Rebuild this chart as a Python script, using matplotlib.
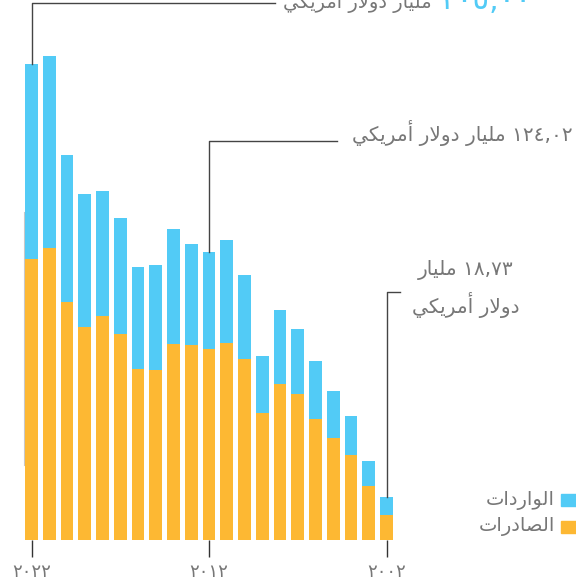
"""Stacked bars of exports / imports, 2022 -> 2002, Arabic labels."""

import matplotlib
matplotlib.use("Agg")
import matplotlib.pyplot as plt
import numpy as np
from matplotlib.patches import Rectangle

# ---- data (billion USD), left to right: 2022 ... 2002 ----
years = list(range(2022, 2001, -1))
exports = [121.0, 125.7, 102.5, 91.7, 96.5, 88.7, 73.6, 73.2, 84.4, 84.0, 82.20,
           84.8, 77.9, 54.7, 67.2, 62.9, 52.1, 43.9, 36.6, 23.3, 10.80]
imports = [84.0, 82.7, 63.3, 57.3, 53.8, 50.0, 44.0, 45.2, 49.5, 43.5, 41.82,
           44.4, 36.2, 24.5, 31.8, 28.0, 25.0, 20.3, 16.8, 10.7, 7.93]
tick_years = [2022, 2012, 2002]
legend_labels = ["الواردات", "الصادرات"]

BLUE = "#52cbf6"
ORANGE = "#fdb833"
GRAY_TXT = "#777777"
LINE = "#444444"

# ---- minimal Arabic shaping (presentation forms, visual order) ----
FORMS = {
    "ا": ("\uFE8D", "\uFE8E", None, None),
    "أ": ("\uFE83", "\uFE84", None, None),
    "ت": ("\uFE95", "\uFE96", "\uFE97", "\uFE98"),
    "د": ("\uFEA9", "\uFEAA", None, None),
    "ر": ("\uFEAD", "\uFEAE", None, None),
    "ص": ("\uFEB9", "\uFEBA", "\uFEBB", "\uFEBC"),
    "ك": ("\uFED9", "\uFEDA", "\uFEDB", "\uFEDC"),
    "ل": ("\uFEDD", "\uFEDE", "\uFEDF", "\uFEE0"),
    "م": ("\uFEE1", "\uFEE2", "\uFEE3", "\uFEE4"),
    "و": ("\uFEED", "\uFEEE", None, None),
    "ي": ("\uFEF1", "\uFEF2", "\uFEF3", "\uFEF4"),
    "لا": ("\uFEFB", "\uFEFC", None, None),
}
DIGITS = str.maketrans("0123456789.", "٠١٢٣٤٥٦٧٨٩,")


def shape(word):
    units, i = [], 0
    while i < len(word):
        if word[i] == "ل" and word[i + 1:i + 2] == "ا":
            units.append("لا")
            i += 2
        else:
            units.append(word[i])
            i += 1
    out = []
    for k, u in enumerate(units):
        iso, fin, ini, med = FORMS[u]
        prev_joins = k > 0 and FORMS[units[k - 1]][2] is not None
        next_joins = ini is not None and k + 1 < len(units)
        if prev_joins and next_joins:
            out.append(med)
        elif prev_joins:
            out.append(fin)
        elif next_joins:
            out.append(ini)
        else:
            out.append(iso)
    return "".join(reversed(out))


def ar(text):
    parts = []
    for w in text.split(" "):
        if any(c.isdigit() for c in w):
            parts.append(w.translate(DIGITS))
        else:
            parts.append(shape(w))
    return " ".join(reversed(parts))


def num(v):
    return f"{v:.2f}".translate(DIGITS)


plt.rcParams["font.family"] = ["DejaVu Sans"]

exports = np.array(exports)
imports = np.array(imports)
totals = exports + imports
x = np.arange(len(years))

W, H = 576, 587
STEP = 17.75          # px per bar slot
X0 = 31.5             # px centre of first bar
BASE = 540            # px baseline from top
K = 124.02 / 288      # value per px

fig = plt.figure(figsize=(W / 100, H / 100), dpi=100)
left = (X0 - 0.5 * STEP) / W
right = (X0 + 20.5 * STEP) / W
ax = fig.add_axes([left, (H - BASE) / H, right - left, BASE / H])
ax.set_xlim(-0.5, 20.5)
ax.set_ylim(0, BASE * K)


def px_x(px):
    return (px - X0) / STEP


def px_y(py):
    return (BASE - py) * K


ax.bar(x, exports, width=0.73, color=ORANGE, zorder=2)
ax.bar(x, imports, bottom=exports, width=0.73, color=BLUE, zorder=2)

for s in ax.spines.values():
    s.set_visible(False)
ax.set_yticks([])
ax.set_xticks([years.index(y) for y in tick_years])
ax.set_xticklabels([str(y).translate(DIGITS) for y in tick_years],
                   color=GRAY_TXT, fontsize=13)
ax.tick_params(axis="x", length=12.5, width=1.0, color="#333333", pad=4)

# faint guide on the left
ax.plot([px_x(24.5)] * 2, [px_y(465), px_y(213)], color="#c8c8c8", lw=1.5,
        clip_on=False, zorder=1)

# 2022 annotation (top, runs off the top edge as in the original)
i = 0
ax.plot([i, i, px_x(275)], [totals[i], px_y(2.5), px_y(2.5)], color=LINE,
        lw=1.0, clip_on=False, zorder=3)
ax.text(px_x(283), px_y(8), ar("مليار دولار أمريكي"), color=GRAY_TXT,
        fontsize=14, ha="left", va="baseline", clip_on=False)
ax.text(px_x(441), px_y(9), num(totals[i]), color=BLUE, fontsize=22,
        ha="left", va="baseline", clip_on=False)

# 2012 annotation
i = years.index(2012)
ax.plot([i, i, px_x(337)], [totals[i], px_y(141), px_y(141)], color=LINE,
        lw=1.0, clip_on=False, zorder=3)
ax.text(px_x(352), px_y(133), ar(f"{totals[i]:.2f} مليار دولار أمريكي"),
        color=GRAY_TXT, fontsize=14.5, ha="left", va="center", clip_on=False)

# 2002 annotation
i = years.index(2002)
ax.plot([i, i, px_x(400)], [totals[i], px_y(292), px_y(292)], color=LINE,
        lw=1.0, clip_on=False, zorder=3)
ax.text(px_x(466), px_y(270), ar(f"{totals[i]:.2f} مليار"), color=GRAY_TXT,
        fontsize=14.5, ha="center", va="center", clip_on=False)
ax.text(px_x(466), px_y(305), ar("دولار أمريكي"), color=GRAY_TXT,
        fontsize=14.5, ha="center", va="center", clip_on=False)

# legend (figure pixels)
for (label, color, y_top) in zip(legend_labels, [BLUE, ORANGE], [494, 521]):
    fig.patches.append(Rectangle((561 / W, 1 - (y_top + 12) / H), 15 / W, 12 / H,
                                 transform=fig.transFigure, color=color))
    fig.text(555 / W, 1 - (y_top + 6) / H, ar(label), color=GRAY_TXT,
             fontsize=14, ha="right", va="center")

fig.savefig("out.png", dpi=100)
